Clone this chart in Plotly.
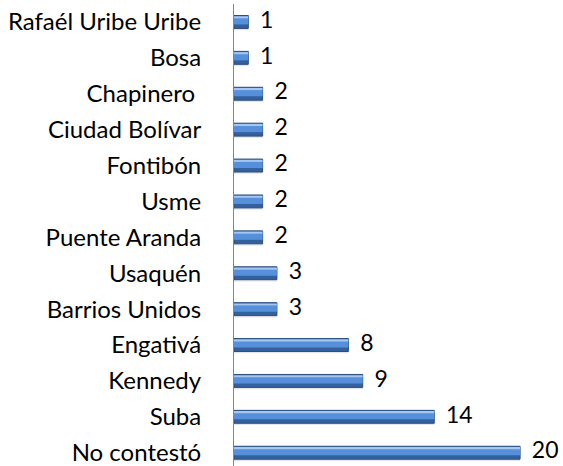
import plotly.graph_objects as go

categories = ["No contestó", "Suba", "Kennedy", "Engativá", "Barrios Unidos", "Usaquén",
              "Puente Aranda", "Usme", "Fontibón", "Ciudad Bolívar", "Chapinero\u00a0",
              "Bosa", "Rafaél Uribe Uribe"]
values = [20, 14, 9, 8, 3, 3, 2, 2, 2, 2, 2, 1, 1]

FONT = "Lato"
FSIZE = 24
VSIZE = 23
fig = go.Figure()

# soft shadow
fig.add_trace(go.Bar(y=categories, x=values, orientation="h", width=0.36, offset=-0.23,
                     marker=dict(color="rgba(0,0,0,0.10)", line=dict(width=0)),
                     hoverinfo="skip", showlegend=False))
# main bar body (darker lower part)
fig.add_trace(go.Bar(y=categories, x=values, orientation="h", width=0.36, offset=-0.18,
                     marker=dict(color="#34619E", line=dict(color="#2A4E80", width=1)),
                     hoverinfo="skip", showlegend=False))
# brighter middle band
fig.add_trace(go.Bar(y=categories, x=values, orientation="h", width=0.18, offset=-0.07,
                     marker=dict(color="#5690DA", line=dict(width=0)),
                     hoverinfo="skip", showlegend=False))
# top highlight
fig.add_trace(go.Bar(y=categories, x=values, orientation="h", width=0.06, offset=0.10,
                     marker=dict(color="#A4C6F0", line=dict(width=0)),
                     hoverinfo="skip", showlegend=False))
# value labels
fig.add_trace(go.Scatter(y=categories, x=values, mode="text",
                         text=["\u00a0\u00a0" + str(v) for v in values],
                         textposition="middle right",
                         textfont=dict(family=FONT, size=VSIZE, color="#000000"),
                         cliponaxis=False, hoverinfo="skip", showlegend=False))

fig.update_layout(
    width=563, height=466,
    margin=dict(l=234, r=0, t=4, b=0, autoexpand=False),
    paper_bgcolor="white", plot_bgcolor="white",
    barmode="overlay",
    font=dict(family=FONT, size=FSIZE, color="#000000"),
    xaxis=dict(range=[0, 23], visible=False, showgrid=False, zeroline=False,
               automargin=False),
    yaxis=dict(type="category", categoryorder="array", categoryarray=categories,
               range=[-0.37, 12.5], showgrid=False, zeroline=False,
               showline=True, linecolor="#868686", linewidth=1,
               ticks="", ticklabelstandoff=27, automargin=False,
               tickfont=dict(family=FONT, size=FSIZE, color="#000000")),
)

fig.write_html("out.html",
               config={"displayModeBar": False},
               post_script="document.body.style.margin='0';document.body.style.overflow='hidden';")
